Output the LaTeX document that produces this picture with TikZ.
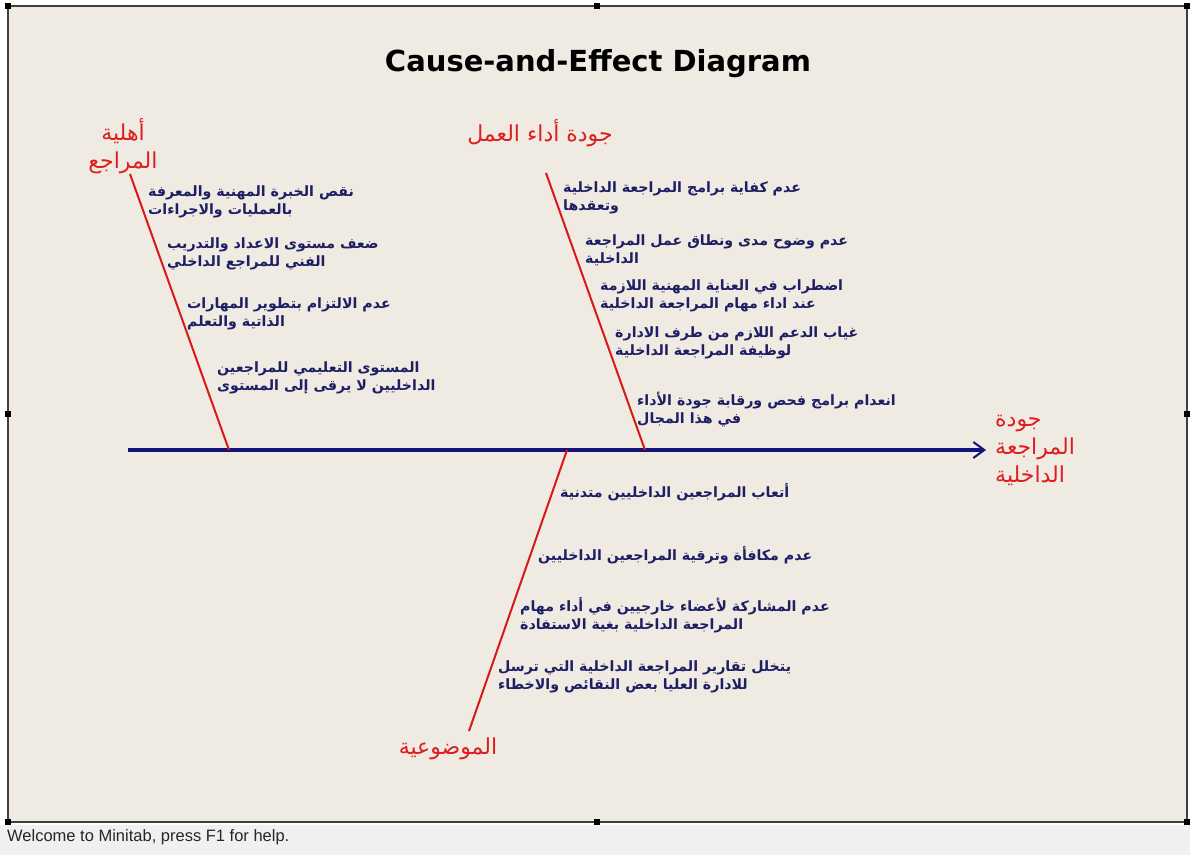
\documentclass[tikz,border=0pt]{standalone}
\usepackage{fontspec}
\setmainfont{Liberation Sans}
\newfontfamily\arabicfont[Script=Arabic]{DejaVu Sans}
\newfontfamily\titlefont{DejaVu Sans}
\TeXXeTstate=1
\usetikzlibrary{arrows.meta}
\definecolor{bgbeige}{RGB}{239,235,226}
\definecolor{statusgray}{RGB}{240,240,240}
\definecolor{navyline}{RGB}{20,20,120}
\definecolor{navytext}{RGB}{30,30,100}
\definecolor{catred}{RGB}{222,30,30}
\definecolor{boneRed}{RGB}{215,25,25}
\newcommand{\AR}[1]{\beginR #1\endR}
\begin{document}
\begin{tikzpicture}[x=1pt,y=-1pt,
  cause/.style={font=\arabicfont\bfseries\fontsize{14.2}{18}\selectfont, text=navytext, align=left, anchor=west, inner sep=0pt},
  catlabel/.style={font=\arabicfont\fontsize{22}{28}\selectfont, text=catred, inner sep=0pt},
  bone/.style={draw=boneRed, line width=2pt},
  spine/.style={draw=navyline, line width=3.5pt},
  handle/.style={fill=black, draw=none, minimum size=6pt, inner sep=0pt},
  frameline/.style={draw=black!75, line width=1.3pt}]
\useasboundingbox (0,0) rectangle (1190,855);
% backgrounds
\fill[white] (0,0) rectangle (1190,855);
\fill[statusgray] (0,825) rectangle (1190,855);
\fill[bgbeige] (8,6) rectangle (1187,822);
\draw[frameline] (8,6) rectangle (1187,822);
\foreach \p/\n in {{(8,6)}/h1,{(597,6)}/h2,{(1187,6)}/h3,{(8,414)}/h4,{(1187,414)}/h5,{(8,822)}/h6,{(597,822)}/h7,{(1187,822)}/h8}
  \node[handle] (\n) at \p {};
% status text
\node[anchor=west, inner sep=0pt, font=\fontsize{16.5}{19}\selectfont, text=black!85] (status) at (7,837) {Welcome to Minitab, press F1 for help.};
% title
\node[font=\titlefont\bfseries\fontsize{29}{34}\selectfont, inner sep=0pt] (title) at (598,64) {Cause-and-Effect Diagram};
% spine
\coordinate (tail) at (128,450);
\coordinate (head) at (986,450);
\draw[spine, -{Straight Barb[length=11pt,width=16pt,line width=2pt]}] (tail) -- (head);
% bones
\coordinate (b1top) at (130,174);
\coordinate (b1bot) at (229,450);
\coordinate (b2top) at (546,173);
\coordinate (b2bot) at (645,450);
\coordinate (b3top) at (567,450);
\coordinate (b3bot) at (469,731);
\draw[bone] (b1top) -- (b1bot);
\draw[bone] (b2top) -- (b2bot);
\draw[bone] (b3top) -- (b3bot);
% effect label
\node[catlabel, align=left, anchor=west] (effect) at (995,450) {\AR{جودة}\\\AR{المراجعة}\\\AR{الداخلية}};
% category labels
\node[catlabel, align=center] (cat1) at (123,146) {\AR{أهلية}\\\AR{المراجع}};
\node[catlabel] (cat2) at (540,133) {\AR{جودة أداء العمل}};
\node[catlabel] (cat3) at (448,749) {\AR{الموضوعية}};
% causes bone 1
\node[cause] (c11) at (148,202) {\AR{نقص الخبرة المهنية والمعرفة}\\\AR{بالعمليات والاجراءات}};
\node[cause] (c12) at (167,254) {\AR{ضعف مستوى الاعداد والتدريب}\\\AR{الفني للمراجع الداخلي}};
\node[cause] (c13) at (187,314) {\AR{عدم الالتزام بتطوير المهارات}\\\AR{الذاتية والتعلم}};
\node[cause] (c14) at (217,378) {\AR{المستوى التعليمي للمراجعين}\\\AR{الداخليين لا يرقى إلى المستوى}};
% causes bone 2
\node[cause] (c21) at (563,198) {\AR{عدم كفاية برامج المراجعة الداخلية}\\\AR{وتعقدها}};
\node[cause] (c22) at (585,250) {\AR{عدم وضوح مدى ونطاق عمل المراجعة}\\\AR{الداخلية}};
\node[cause] (c23) at (600,296) {\AR{اضطراب في العناية المهنية اللازمة}\\\AR{عند اداء مهام المراجعة الداخلية}};
\node[cause] (c24) at (615,343) {\AR{غياب الدعم اللازم من طرف الادارة}\\\AR{لوظيفة المراجعة الداخلية}};
\node[cause] (c25) at (637,410) {\AR{انعدام برامج فحص ورقابة جودة الأداء}\\\AR{في هذا المجال}};
% causes bone 3
\node[cause] (c31) at (560,492) {\AR{أتعاب المراجعين الداخليين متدنية}};
\node[cause] (c32) at (538,555) {\AR{عدم مكافأة وترقية المراجعين الداخليين}};
\node[cause] (c33) at (520,615) {\AR{عدم المشاركة لأعضاء خارجيين في أداء مهام}\\\AR{المراجعة الداخلية بغية الاستفادة}};
\node[cause] (c34) at (498,677) {\AR{يتخلل تقارير المراجعة الداخلية التي ترسل}\\\AR{للادارة العليا بعض النقائص والاخطاء}};
\end{tikzpicture}
\end{document}
